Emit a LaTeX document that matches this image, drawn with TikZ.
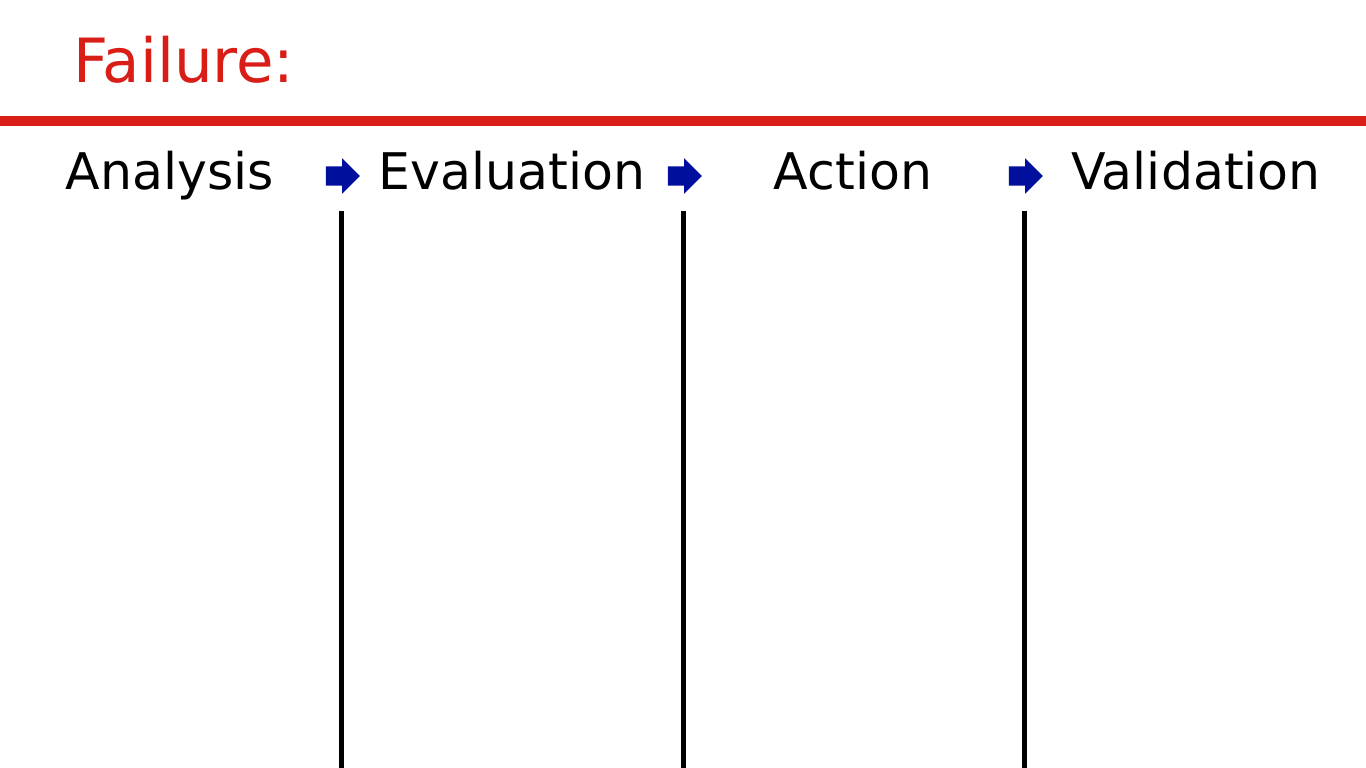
\documentclass[tikz,border=0pt]{standalone}
\usepackage{fontspec}
\setmainfont{DejaVu Sans}
\usetikzlibrary{shapes.arrows}
\definecolor{colorfail}{HTML}{D91E18}
\definecolor{colorstep}{HTML}{00109C}
\tikzset{
  stage/.style={draw=none, inner sep=0pt, anchor=base, font=\fontsize{50.5}{60}\selectfont},
  stagearrow/.style={single arrow, fill=colorstep, draw=none, inner xsep=0pt, inner ysep=9.5pt,
    minimum height=34pt, single arrow head extend=8pt},
  divider/.style={black, line width=5pt},
  headline/.style={colorfail, line width=10pt}
}
\begin{document}
\begin{tikzpicture}[x=1pt, y=-1pt]
\useasboundingbox (0,0) rectangle (1366,768);

\node[draw=none, inner sep=0pt, anchor=base west, text=colorfail,
  font=\fontsize{61}{70}\selectfont] (fail) at (73,83) {Failure:};

\coordinate (hl) at (0,121);
\coordinate (hr) at (1366,121);
\draw[headline] (hl) -- (hr);

\node[stage] (ana) at (170,189) {Analysis};
\node[stage] (eva) at (512,189) {Evaluation};
\node[stage] (act) at (853,189) {Action};
\node[stage] (val) at (1196,189) {Validation};

\foreach \n/\x in {1/341,2/683,3/1024}{
  \node[stagearrow] (arr\n) at (\x-3,176) {};
  \coordinate (top\n) at (\x,211);
  \coordinate (bot\n) at (\x,768);
  \draw[divider] (top\n) -- (bot\n);
}
\end{tikzpicture}
\end{document}
